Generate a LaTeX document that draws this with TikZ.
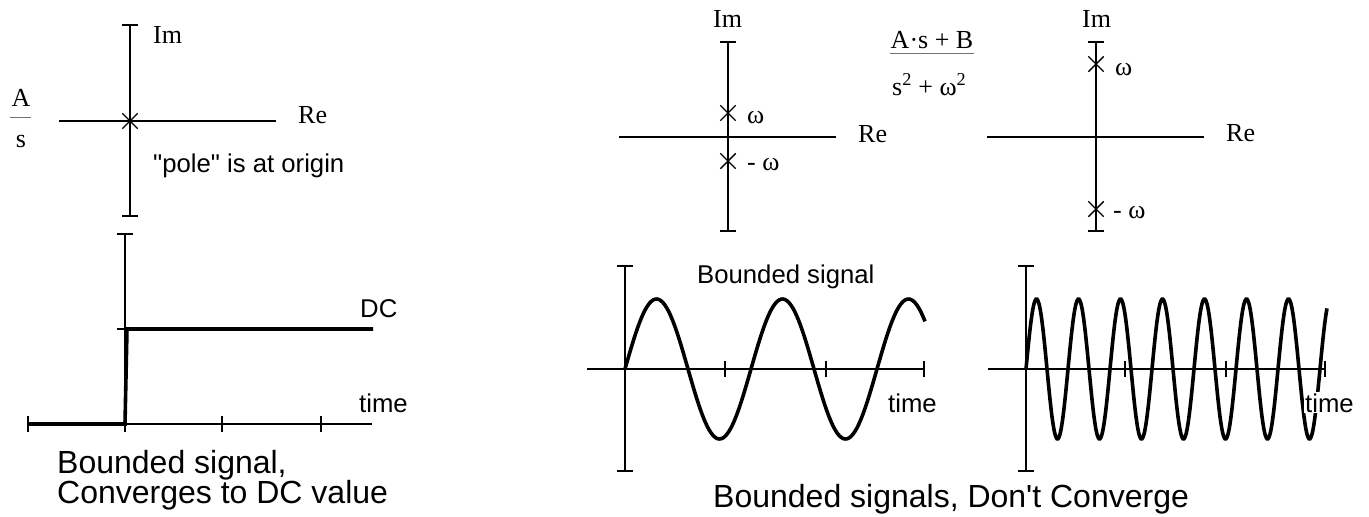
\documentclass[tikz,border=0pt]{standalone}
\usepackage{fontspec}
\setmainfont{Liberation Serif}
\setsansfont{Liberation Sans}
\usetikzlibrary{arrows.meta, shapes.misc, positioning}

\begin{document}
\begin{tikzpicture}[
  x=1pt, y=-1pt,
  axis/.style={line width=1.8pt, black},
  capped/.style={{Bar[width=16pt]}-{Bar[width=16pt]}},
  sig/.style={line width=3.6pt, black},
  polex/.style={
    cross out, draw, line width=1.4pt,
    minimum size=14pt, inner sep=0pt
  },
  fracbar/.style={line width=0.9pt, black!55},
  lbl/.style={
    font=\fontsize{26}{30}\selectfont,
    inner sep=0pt, anchor=base west
  },
  note/.style={
    font=\sffamily\fontsize{25.7}{30}\selectfont,
    inner sep=0pt, anchor=base west
  },
  caption/.style={
    font=\sffamily\fontsize{32}{36}\selectfont,
    inner sep=0pt, anchor=base west
  }
]
\useasboundingbox (0,0) rectangle (1369,517);

%% ═══ A/s — POLE AT ORIGIN ═══
\draw[axis, capped] (130,24) -- (130,217);
\draw[axis] (59,121) -- (276,121);
\node[polex] (p0) at (130,121) {};
\node[lbl] (imA) at (153,43) {Im};
\node[lbl] (reA) at (298,123) {Re};
\node[note] (poleA) at (153,172) {\textquotedbl pole\textquotedbl{} is at origin};

\node[lbl, anchor=base] (numA) at (21,106) {A};
\draw[fracbar] (10,117) -- (31,117);
\node[lbl, anchor=base] (denA) at (21,147) {s};

%% ═══ (As+B)/(s^2+w^2) — SMALL w ═══
\draw[axis, capped] (728,41) -- (728,232);
\draw[axis] (619,137) -- (836,137);
\node[polex] (p1) at (728,113) {};
\node[polex] (p2) at (728,161) {};
\node[lbl] (w1) at (747,123) {ω};
\node[lbl] (w2) at (747,170) {- ω};
\node[lbl] (imB) at (713,27) {Im};
\node[lbl] (reB) at (858,142) {Re};

\node[lbl, anchor=base] (numB) at (932,48) {A·s + B};
\draw[fracbar] (890,53) -- (974,53);
\node[lbl] (denB) at (892,95) {s\textsuperscript{2} + ω\textsuperscript{2}};

%% ═══ LARGE w ═══
\draw[axis, capped] (1096,41) -- (1096,232);
\draw[axis] (987,137) -- (1204,137);
\node[polex] (p3) at (1096,64) {};
\node[polex] (p4) at (1096,209) {};
\node[lbl] (w3) at (1115,75) {ω};
\node[lbl] (w4) at (1113,218) {- ω};
\node[lbl] (imC) at (1082,27) {Im};
\node[lbl] (reC) at (1226,141) {Re};

%% ═══ STEP RESPONSE ═══
\draw[axis, {Bar[width=16pt]}-] (125,233) -- (125,424);
\draw[axis] (117,329) -- (133,329);
\draw[axis, {Bar[width=16pt]}-] (27,424) -- (372,424);
\draw[axis] (125,424) -- (125,432);
\draw[axis] (222,416) -- (222,432);
\draw[axis] (321,416) -- (321,432);
\draw[sig] (27,424) -- (125,424) -- (127,329) -- (373,329);
\node[note] (dc) at (360,317) {DC};
\node[note] (timeA) at (359,412) {time};
\node[caption] (capA1) at (57,473) {Bounded signal,};
\node[caption] (capA2) at (57,503) {Converges to DC value};

%% ═══ SLOW SINE ═══
\draw[axis, capped] (625,265) -- (625,472);
\draw[axis, -{Bar[width=16pt]}] (587,369) -- (925,369);
\draw[axis] (725,361) -- (725,377);
\draw[axis] (826,361) -- (826,377);
\draw[sig] plot[domain=0:300, samples=151, smooth]
  ({625+\x}, {369-70*sin(\x/126*360)});
\node[note] (bnd) at (697,283) {Bounded signal};
\node[note] (timeB) at (888,412) {time};

%% ═══ FAST SINE ═══
\draw[axis, capped] (1026,265) -- (1026,472);
\draw[axis, -{Bar[width=16pt]}] (988,369) -- (1326,369);
\draw[axis] (1125,361) -- (1125,377);
\draw[axis] (1226,361) -- (1226,377);
\draw[sig] plot[domain=0:301, samples=302, smooth]
  ({1026+\x}, {369-70*sin(\x/42*360)});
\node[note, fill=white, inner sep=1pt] (timeC) at (1304,412) {time};

\node[caption] (capB) at (713,507) {Bounded signals, Don\textquotesingle t Converge};

\end{tikzpicture}
\end{document}
